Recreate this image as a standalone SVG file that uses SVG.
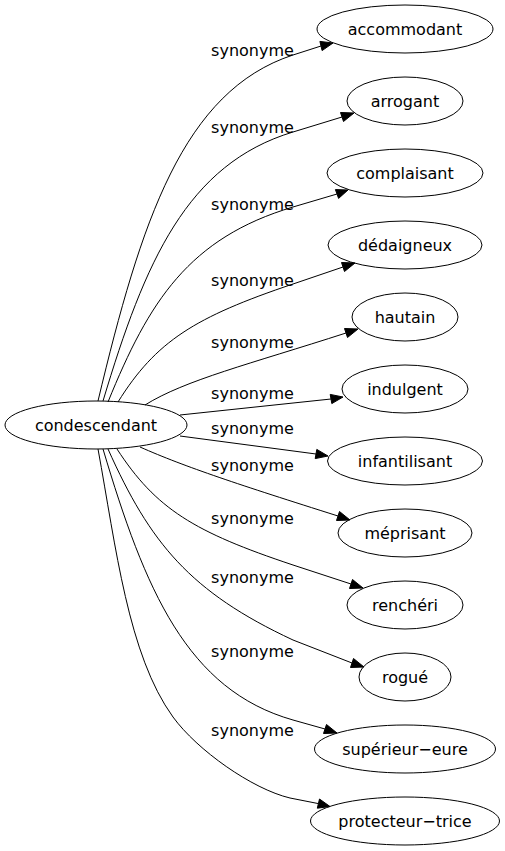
<svg xmlns="http://www.w3.org/2000/svg" width="505" height="851" viewBox="0 0 505 851">
<style>
  .node ellipse { fill: none; stroke: #000; stroke-width: 1; }
  text { font-family: "DejaVu Sans", "Liberation Sans", sans-serif; font-size: 16px; fill: #000; }
  .node text { text-anchor: middle; }
  .edge path { fill: none; stroke: #000; stroke-width: 1; }
  .edge polygon { fill: #000; stroke: #000; stroke-width: 1; }
  .edge text { text-anchor: middle; }
</style>
<rect width="505" height="851" fill="#fff"/>
<g id="edges">
  <g class="edge" id="e1">
    <path d="M98,401 C141,221 183,91 293,55 L321,46"/>
    <polygon points="322.1,50.6 333,43 319.9,41.4"/>
    <text x="252.5" y="56">synonyme</text>
  </g>
  <g class="edge" id="e2">
    <path d="M103,401 C145,261 187,164 293,132 L342,117"/>
    <polygon points="343.5,121.5 354,113 340.5,112.5"/>
    <text x="252.5" y="133">synonyme</text>
  </g>
  <g class="edge" id="e3">
    <path d="M108,402 C149,301 189,238 293,207 L337,194"/>
    <polygon points="338.6,198.4 348,190 335.4,189.6"/>
    <text x="252.5" y="210">synonyme</text>
  </g>
  <g class="edge" id="e4">
    <path d="M118,402 C156,341 195,317 293,284 L343,267"/>
    <polygon points="344.5,271.5 355,263 341.5,262.5"/>
    <text x="252.5" y="286">synonyme</text>
  </g>
  <g class="edge" id="e5">
    <path d="M145,405 C185,380 250,364 346,333"/>
    <polygon points="347.5,337.5 358,329 344.5,328.5"/>
    <text x="252.5" y="348">synonyme</text>
  </g>
  <g class="edge" id="e6">
    <path d="M180,415 L331,399"/>
    <polygon points="331.8,403.6 343,397 330.2,394.4"/>
    <text x="252.5" y="399">synonyme</text>
  </g>
  <g class="edge" id="e7">
    <path d="M180,436 L316,454"/>
    <polygon points="315.2,458.6 328,456 316.8,449.4"/>
    <text x="252.5" y="434">synonyme</text>
  </g>
  <g class="edge" id="e8">
    <path d="M140,447 C185,467 240,485 338,516"/>
    <polygon points="336.5,520.5 350,520 339.5,511.5"/>
    <text x="252.5" y="471">synonyme</text>
  </g>
  <g class="edge" id="e9">
    <path d="M117,449 C156,509 194,532 293,565 L351,584"/>
    <polygon points="349.5,588.5 363,588 352.5,579.5"/>
    <text x="252.5" y="524">synonyme</text>
  </g>
  <g class="edge" id="e10">
    <path d="M108,449 C150,543 190,592 293,640 L352,663"/>
    <polygon points="350.5,667.5 364,667 353.5,658.5"/>
    <text x="252.5" y="583">synonyme</text>
  </g>
  <g class="edge" id="e11">
    <path d="M103,449 C145,590 187,690 293,720 L325,729"/>
    <polygon points="323.5,733.5 337,733 326.5,724.5"/>
    <text x="252.5" y="657">synonyme</text>
  </g>
  <g class="edge" id="e12">
    <path d="M98,449 C116,547 128,655 173,717 C197,750 252,789 290,798 L318.4,803.6"/>
    <polygon points="317.3,808.2 330,806.5 319.5,799"/>
    <text x="252.5" y="736">synonyme</text>
  </g>
</g>
<g class="node" id="n0"><ellipse cx="96" cy="425" rx="91" ry="24"/><text x="96" y="430.5">condescendant</text></g>
<g class="node" id="n1"><ellipse cx="405" cy="29" rx="88" ry="24"/><text x="405" y="34.5">accommodant</text></g>
<g class="node" id="n2"><ellipse cx="405" cy="101" rx="58" ry="24"/><text x="405" y="106.5">arrogant</text></g>
<g class="node" id="n3"><ellipse cx="405" cy="173" rx="78" ry="24"/><text x="405" y="178.5">complaisant</text></g>
<g class="node" id="n4"><ellipse cx="405" cy="245" rx="77" ry="24"/><text x="405" y="250.5">dédaigneux</text></g>
<g class="node" id="n5"><ellipse cx="405" cy="317" rx="53" ry="24"/><text x="405" y="322.5">hautain</text></g>
<g class="node" id="n6"><ellipse cx="405" cy="389" rx="63" ry="24"/><text x="405" y="394.5">indulgent</text></g>
<g class="node" id="n7"><ellipse cx="405" cy="461" rx="77.5" ry="24"/><text x="405" y="466.5">infantilisant</text></g>
<g class="node" id="n8"><ellipse cx="405" cy="533" rx="67" ry="24"/><text x="405" y="538.5">méprisant</text></g>
<g class="node" id="n9"><ellipse cx="405" cy="605" rx="58" ry="24"/><text x="405" y="610.5">renchéri</text></g>
<g class="node" id="n10"><ellipse cx="405" cy="677" rx="46" ry="24"/><text x="405" y="682.5">rogué</text></g>
<g class="node" id="n11"><ellipse cx="405" cy="749" rx="90.5" ry="24"/><text x="405" y="754.5">supérieur−eure</text></g>
<g class="node" id="n12"><ellipse cx="405" cy="821" rx="94.5" ry="24"/><text x="405" y="826.5">protecteur−trice</text></g>
</svg>
